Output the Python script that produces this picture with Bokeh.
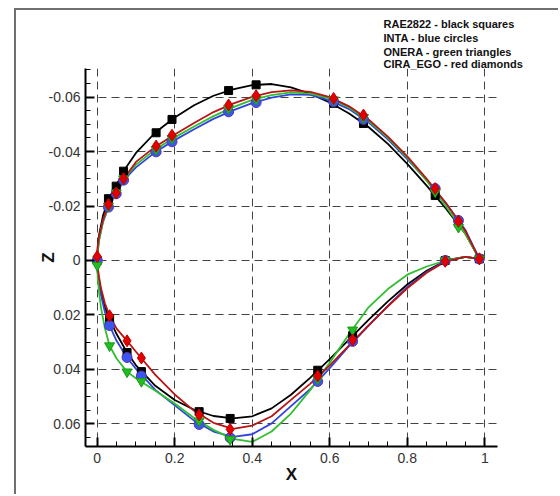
from bokeh.plotting import figure
from bokeh.models import Range1d, FixedTicker, Title
from bokeh.embed import file_html
from bokeh.resources import INLINE

# ---------------- data ----------------
# smooth curves: upper surface and lower surface samples
UP_X = [0.0, 0.0015, 0.005, 0.015, 0.03, 0.05, 0.07, 0.1, 0.15, 0.2, 0.25, 0.3, 0.35,
        0.4, 0.45, 0.5, 0.55, 0.6, 0.65, 0.7, 0.75, 0.8, 0.85, 0.9, 0.95, 0.986]
LO_X = [0.0, 0.0015, 0.005, 0.01, 0.02, 0.032, 0.05, 0.077, 0.1, 0.15, 0.2, 0.25, 0.3,
        0.35, 0.4, 0.45, 0.5, 0.55, 0.6, 0.65, 0.7, 0.75, 0.8, 0.85, 0.9, 0.95, 0.986]

rae_up = [0, -0.005, -0.0095, -0.0165, -0.0228, -0.0278, -0.0332, -0.0395, -0.047, -0.0525,
          -0.057, -0.0605, -0.0628, -0.0644, -0.0648, -0.0636, -0.0612, -0.058, -0.054,
          -0.049, -0.0428, -0.0355, -0.0275, -0.019, -0.0098, -0.0006]
rae_lo = [0, 0.0045, 0.0082, 0.0122, 0.0172, 0.0215, 0.027, 0.0338, 0.0385, 0.046, 0.0512,
          0.0548, 0.0571, 0.058, 0.0572, 0.0543, 0.0493, 0.043, 0.0362, 0.029, 0.0218,
          0.015, 0.0088, 0.0038, 0.0, -0.0013, -0.0006]

inta_up = [0, -0.004, -0.0078, -0.0142, -0.0199, -0.0246, -0.0297, -0.0342, -0.0398, -0.0442,
           -0.0482, -0.052, -0.0551, -0.0578, -0.0598, -0.061, -0.0608, -0.0588, -0.0556,
           -0.0507, -0.0445, -0.0372, -0.0295, -0.021, -0.0112, -0.0006]
inta_lo = [0, 0.0045, 0.0085, 0.013, 0.019, 0.0239, 0.0295, 0.0356, 0.0398, 0.0475, 0.0532,
           0.0588, 0.0628, 0.0648, 0.0638, 0.0598, 0.0535, 0.0472, 0.0395, 0.0314, 0.024,
           0.0167, 0.0097, 0.0042, 0.0, -0.0013, -0.0006]

onera_up = [0.0018, -0.003, -0.0075, -0.0145, -0.0201, -0.0249, -0.0301, -0.0352, -0.0408,
            -0.0452, -0.0492, -0.053, -0.0562, -0.059, -0.0607, -0.0617, -0.0613, -0.0595,
            -0.0562, -0.0513, -0.045, -0.0378, -0.0293, -0.0198, -0.0097, -0.0006]
onera_lo = [0.0018, 0.0068, 0.012, 0.0175, 0.025, 0.0313, 0.036, 0.0409, 0.0432, 0.0478,
            0.0525, 0.0578, 0.0622, 0.0655, 0.0666, 0.0628, 0.0562, 0.0475, 0.0375, 0.027,
            0.0172, 0.0105, 0.0052, 0.0022, 0.0, -0.0013, -0.0006]

cira_up = [-0.0015, -0.0055, -0.009, -0.015, -0.0207, -0.0251, -0.0303, -0.0362, -0.0418,
           -0.0463, -0.0505, -0.0545, -0.0576, -0.0601, -0.0618, -0.0625, -0.0619, -0.06,
           -0.0566, -0.0518, -0.0455, -0.0382, -0.03, -0.021, -0.0108, -0.0006]
cira_lo = [-0.0015, 0.0028, 0.0062, 0.0103, 0.0158, 0.0203, 0.025, 0.0295, 0.0335, 0.042,
           0.0492, 0.0552, 0.0596, 0.0618, 0.0606, 0.0572, 0.0512, 0.0452, 0.0385, 0.0312,
           0.0238, 0.0168, 0.0102, 0.0045, 0.0003, -0.0013, -0.0006]

# measured points (markers)
UPM_X = [0.0, 0.029, 0.049, 0.068, 0.152, 0.193, 0.339, 0.41, 0.61, 0.687, 0.872, 0.932, 0.986]
LOM_X = [0.032, 0.077, 0.114, 0.263, 0.343, 0.569, 0.659, 0.898]

rae_up_m = [0.0, -0.0227, -0.0273, -0.0328, -0.0469, -0.0518, -0.0624, -0.0645, -0.0577,
            -0.0503, -0.0239, -0.0138, -0.0006]
inta_up_m = [0.0, -0.0196, -0.0245, -0.0295, -0.0399, -0.0436, -0.0546, -0.058, -0.0583,
             -0.0518, -0.0264, -0.0147, -0.0006]
onera_up_m = [0.0018, -0.02, -0.0248, -0.03, -0.0408, -0.0448, -0.0558, -0.0592, -0.059,
              -0.0525, -0.0252, -0.0122, -0.0006]
cira_up_m = [-0.0015, -0.0206, -0.0248, -0.0301, -0.042, -0.046, -0.0571, -0.0605, -0.0595,
             -0.0534, -0.0264, -0.0144, -0.0006]

rae_lo_m = [0.0215, 0.0338, 0.0408, 0.0555, 0.058, 0.0403, 0.0276, 0.0]
inta_lo_m = [0.0239, 0.0356, 0.0424, 0.0602, 0.0651, 0.0444, 0.0297, 0.0]
onera_lo_m = [0.0313, 0.0409, 0.0444, 0.0589, 0.0657, 0.0435, 0.0255, 0.0]
cira_lo_m = [0.0203, 0.0295, 0.0358, 0.0567, 0.062, 0.0424, 0.0292, 0.0003]

X_TICKS = [0, 0.2, 0.4, 0.6, 0.8, 1]
Z_TICKS = [-0.06, -0.04, -0.02, 0, 0.02, 0.04, 0.06]
X_TICK_LABELS = {0: "0", 0.2: "0.2", 0.4: "0.4", 0.6: "0.6", 0.8: "0.8", 1: "1"}
Z_TICK_LABELS = {-0.06: "-0.06", -0.04: "-0.04", -0.02: "-0.02", 0: "0",
                 0.02: "0.02", 0.04: "0.04", 0.06: "0.06"}
X_MINOR = [i * 0.05 for i in range(-1, 22)]
Z_MINOR = [i * 0.005 for i in range(-15, 15)]

LEGEND_LINES = ["RAE2822 - black squares", "INTA - blue circles",
                "ONERA - green triangles", "CIRA_EGO - red diamonds"]

# ---------------- figure ----------------
FONT = "Liberation Sans"
p = figure(width=544, height=486, output_backend="svg", toolbar_location=None,
           x_range=Range1d(-0.0302, 1.0328), y_range=Range1d(0.0683, -0.0705),
           min_border_left=69, min_border_right=63, min_border_top=58, min_border_bottom=50)
p.styles = {"margin-left": "14px", "margin-top": "8px",
            "border-left": "2px solid #707070", "border-top": "2px solid #707070"}
p.outline_line_color = None
p.background_fill_color = "white"
p.border_fill_color = "white"

for ax, ticks, minor, labels in ((p.xaxis[0], X_TICKS, X_MINOR, X_TICK_LABELS),
                                 (p.yaxis[0], Z_TICKS, Z_MINOR, Z_TICK_LABELS)):
    ax.ticker = FixedTicker(ticks=ticks, minor_ticks=minor)
    ax.major_label_overrides = labels
    ax.axis_line_width = 2
    ax.axis_line_color = "black"
    ax.major_tick_in = 9
    ax.major_tick_out = 0
    ax.major_tick_line_width = 2
    ax.minor_tick_in = 5
    ax.minor_tick_out = 0
    ax.minor_tick_line_width = 1
    ax.major_label_text_font = FONT
    ax.major_label_text_font_size = "14px"
    ax.major_label_text_color = "#333333"
    ax.axis_label_text_font = FONT
    ax.axis_label_text_font_style = "bold"
    ax.axis_label_text_font_size = "17px"
    ax.axis_label_text_color = "#111111"

p.xaxis.axis_label = "X"
p.yaxis.axis_label = "Z"
p.xaxis.major_label_standoff = 6
p.yaxis.major_label_standoff = 5
p.xaxis.axis_label_standoff = -1
p.yaxis.axis_label_standoff = -12

for g in (p.xgrid[0], p.ygrid[0]):
    g.grid_line_color = "#444444"
    g.grid_line_dash = "8 5"
    g.grid_line_width = 1

series = [
    (rae_up, rae_lo, rae_up_m, rae_lo_m, "#000000", "#000000", "#000000", "square", 8),
    (inta_up, inta_lo, inta_up_m, inta_lo_m, "#3344dd", "#3b55f0", "#5533aa", "circle", 10),
    (onera_up, onera_lo, onera_up_m, onera_lo_m, "#2fbf2f", "#22bb22", "#1a9a1a", "inverted_triangle", 10),
    (cira_up, cira_lo, cira_up_m, cira_lo_m, "#b81414", "#e00000", "#c00000", "diamond", 12),
]

for up, lo, _, _, lc, _, _, _, _ in series:
    xs = UP_X[::-1] + LO_X[1:]
    zs = up[::-1] + lo[1:]
    p.line(xs, zs, line_color=lc, line_width=1.8)

for _, _, um, lm, _, fc, ec, mk, sz in series:
    p.scatter(UPM_X + LOM_X, um + lm, marker=mk, size=sz, fill_color=fc,
              line_color=ec, line_width=1)

# legend text block as stacked titles above the frame (first added = nearest the frame)
for i, t in enumerate(reversed(LEGEND_LINES)):
    p.add_layout(Title(text=t, align="left", offset=298, standoff=(-3 if i == 0 else 0),
                       text_font=FONT, text_font_style="bold", text_font_size="11px",
                       text_color="#111111", text_line_height=1.0), "above")

open("out.html", "w").write(file_html(p, INLINE))
